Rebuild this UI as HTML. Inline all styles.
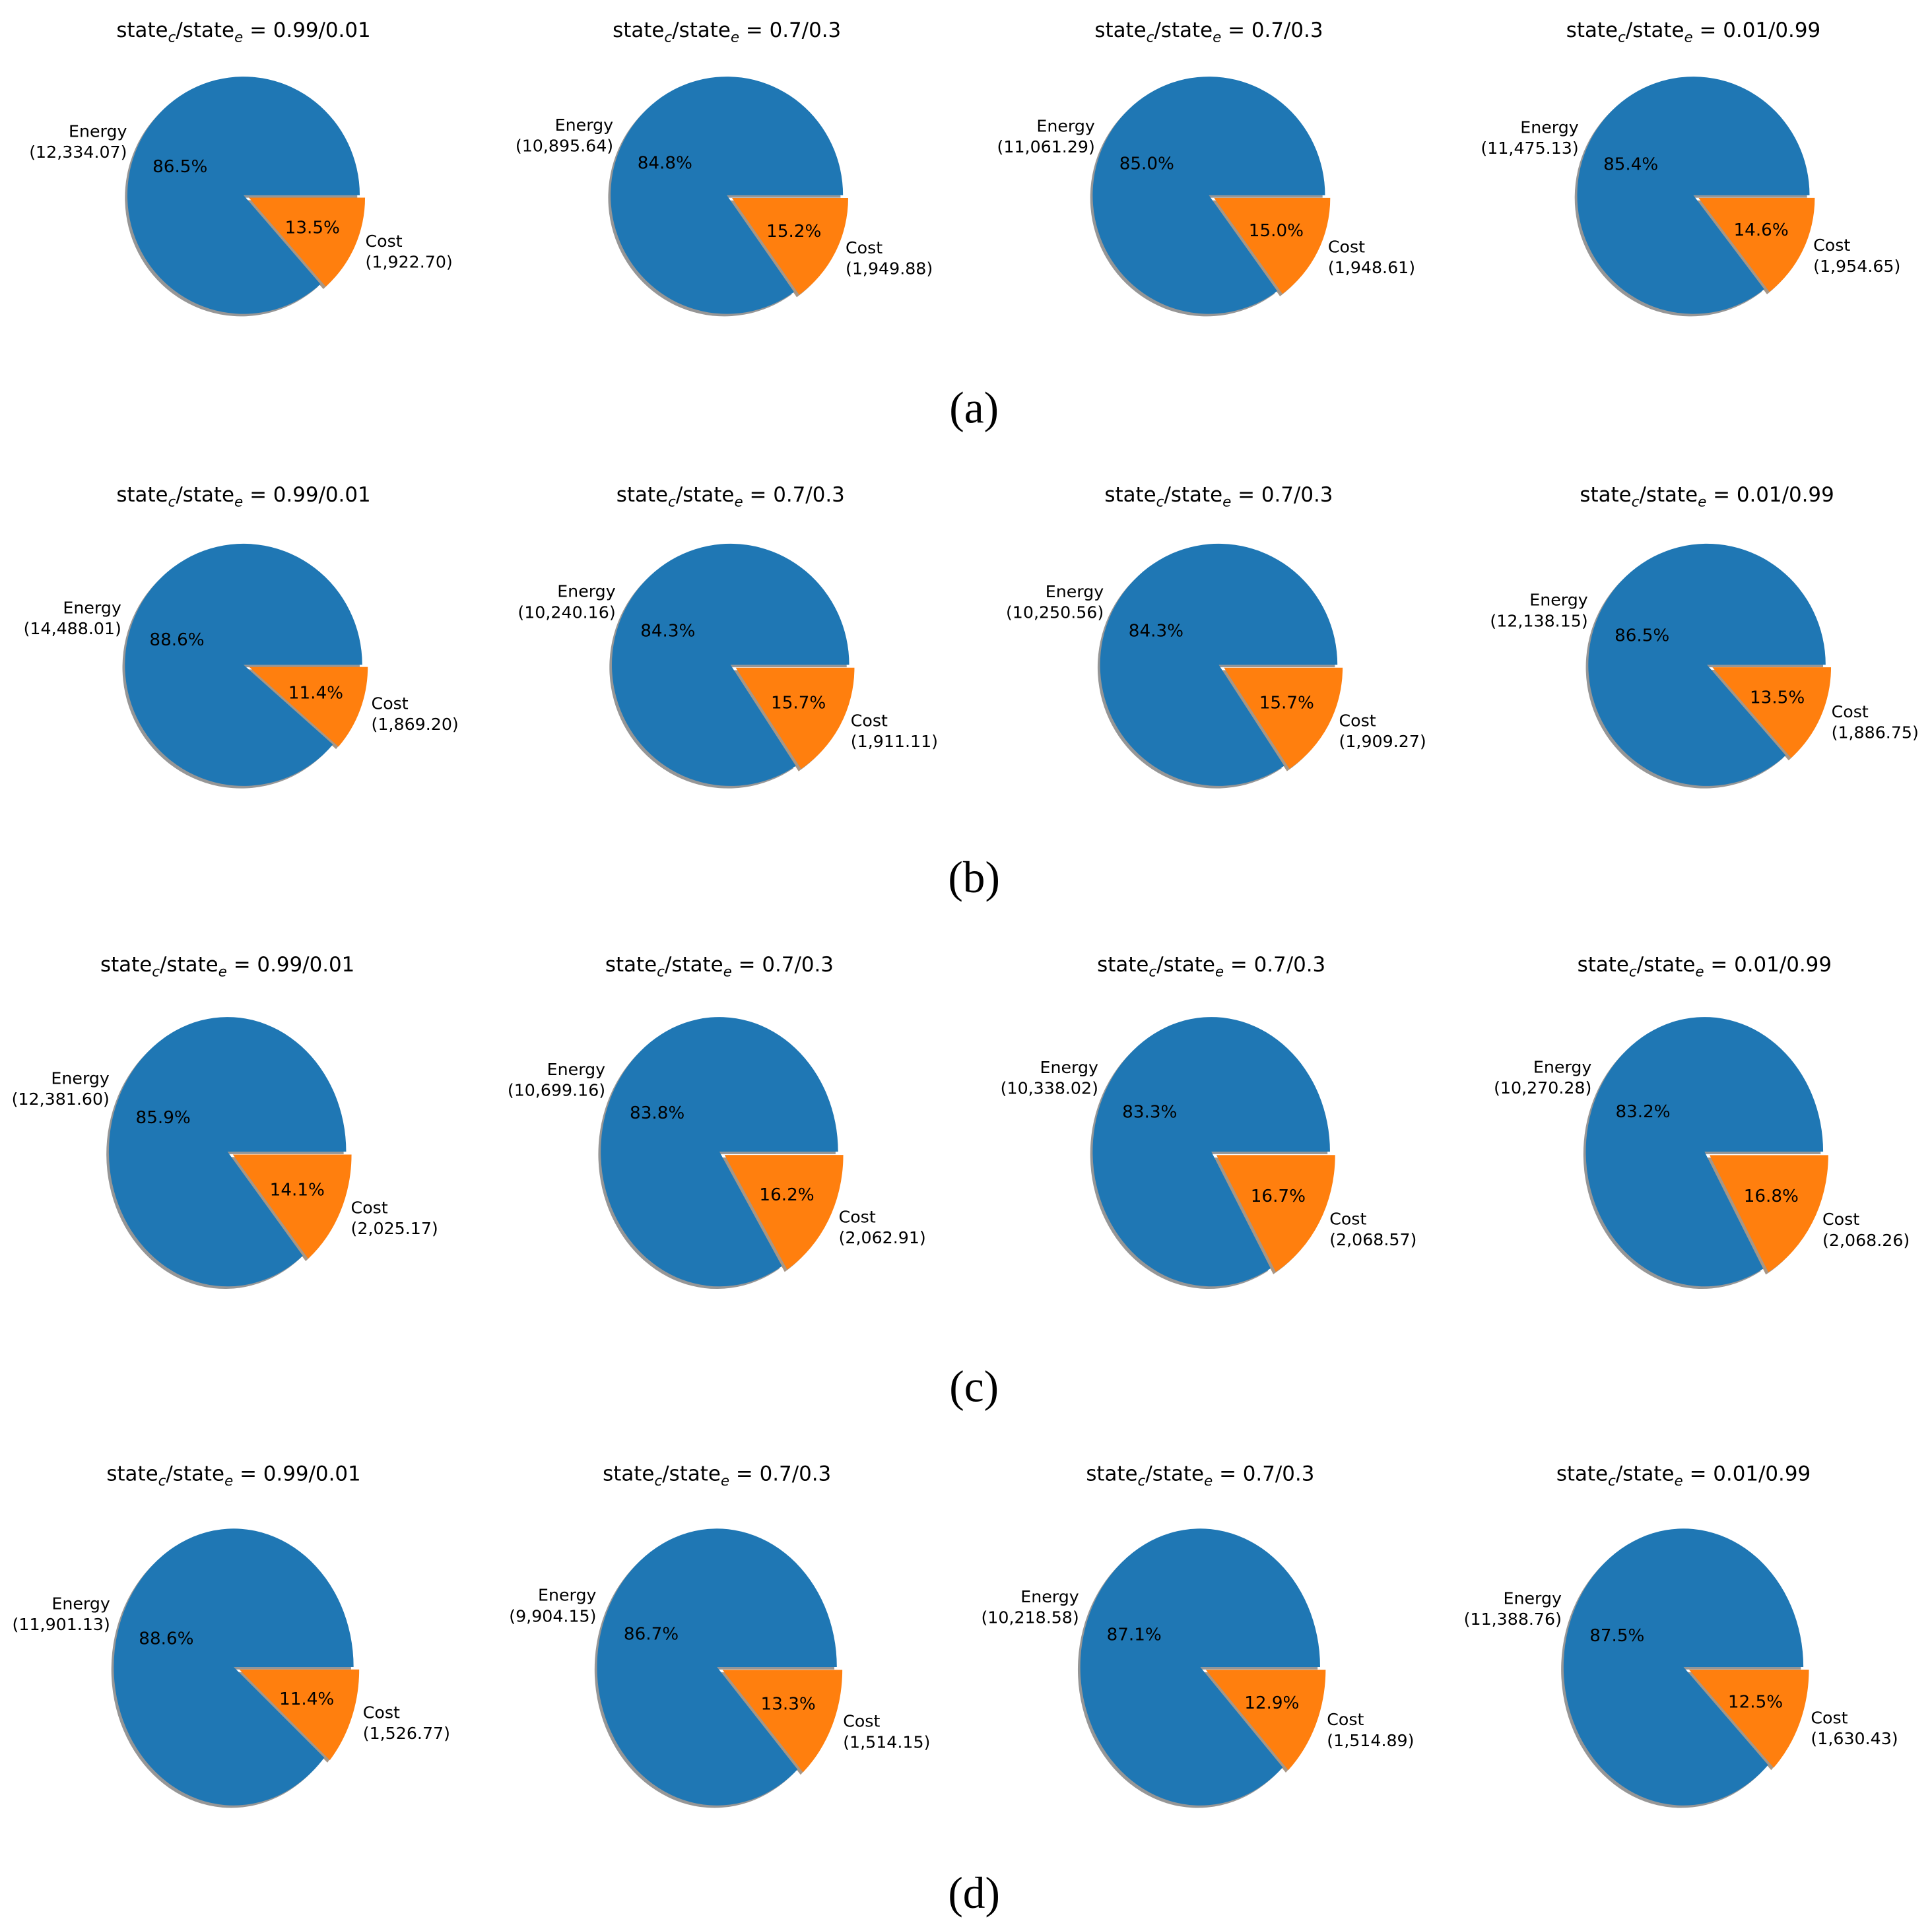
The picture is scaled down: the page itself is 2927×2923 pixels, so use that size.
<!DOCTYPE html>
<html><head><meta charset="utf-8"><style>
html,body{margin:0;padding:0;background:#fff}
svg{display:block}
text{font-family:"DejaVu Sans","Liberation Sans",sans-serif}
</style></head><body>
<svg id="fig" width="2927" height="2923" viewBox="0 0 1563 1561" xmlns="http://www.w3.org/2000/svg"></svg>
<script>
const ratios = ["0.99/0.01","0.7/0.3","0.7/0.3","0.01/0.99"];
const panelLabels = ["(a)","(b)","(c)","(d)"];
const energyA = [12334.07,10895.64,11061.29,11475.13];
const costA   = [1922.70,1949.88,1948.61,1954.65];
const energyB = [14488.01,10240.16,10250.56,12138.15];
const costB   = [1869.20,1911.11,1909.27,1886.75];
const energyC = [12381.60,10699.16,10338.02,10270.28];
const costC   = [2025.17,2062.91,2068.57,2068.26];
const energyD = [11901.13,9904.15,10218.58,11388.76];
const costD   = [1526.77,1514.15,1514.89,1630.43];
const energyRows=[energyA,energyB,energyC,energyD];
const costRows=[costA,costB,costC,costD];

// layout (not data)
const rowGeo=[
 {cy:158,rx:94,ry:96,ty:24,ly:330,cx:[197,588,978,1370]},
 {cy:538,rx:96,ry:98,ty:400,ly:710,cx:[197,591,986,1381]},
 {cy:932,rx:96,ry:109,ty:780,ly:1122,cx:[184,582,980,1379]},
 {cy:1349,rx:97,ry:112,ty:1192,ly:1532,cx:[189,580,971,1362]}
];
const NS="http://www.w3.org/2000/svg";
const svg=document.getElementById('fig');
function mk(tag,attrs,parent){const e=document.createElementNS(NS,tag);for(const k in attrs)e.setAttribute(k,attrs[k]);(parent||svg).appendChild(e);return e;}
function fmt(v){return v.toLocaleString('en-US',{minimumFractionDigits:2,maximumFractionDigits:2});}
function wedgePath(cx,cy,rx,ry,a0,a1){
  const r=Math.PI/180;
  const x0=cx+rx*Math.cos(a0*r), y0=cy-ry*Math.sin(a0*r);
  const x1=cx+rx*Math.cos(a1*r), y1=cy-ry*Math.sin(a1*r);
  const large=(a1-a0)>180?1:0;
  return `M${cx},${cy} L${x0},${y0} A${rx},${ry} 0 ${large} 0 ${x1},${y1} Z`;
}
function multiline(g,x,y,lines,anchor,size,name){
  const t=mk('text',{x:x,y:y,'text-anchor':anchor,'font-size':size,fill:'#000'},g);
  
  
  const lh=size*1.25, start=-(lines.length-1)*lh/2;
  lines.forEach((l,i)=>{const s=mk('tspan',{x:x,dy:i===0?start+size*0.35:lh},t);s.textContent=l;});
  return t;
}
for(let r=0;r<4;r++){
  const geo=rowGeo[r];
  for(let c=0;c<4;c++){
    const E=energyRows[r][c], C=costRows[r][c], tot=E+C;
    const cx=geo.cx[c], cy=geo.cy, rx=geo.rx, ry=geo.ry;
    const g=mk('g',{});
    
    
    const t=mk('text',{x:cx,y:geo.ty+6,'text-anchor':'middle','font-size':16.5,fill:'#000'},g);
    
    
    t.innerHTML='state<tspan font-style="italic" font-size="11.5" dy="4">c</tspan><tspan dy="-4">/state</tspan><tspan font-style="italic" font-size="11.5" dy="4">e</tspan><tspan dy="-4"> = '+ratios[c]+'</tspan>';
    const eAng=360*E/tot;
    const eMid=eAng/2, cMid=(eAng+360)/2;
    const rad=Math.PI/180;
    const exX=0.05*rx*Math.cos(cMid*rad), exY=-0.05*ry*Math.sin(cMid*rad);
    const sh1=mk('path',{d:wedgePath(cx-2,cy+2,rx,ry,0,eAng),fill:'#404040','fill-opacity':0.55},g);
    
    
    const sh2=mk('path',{d:wedgePath(cx-2+exX,cy+2+exY,rx,ry,eAng,360),fill:'#604020','fill-opacity':0.55},g);
    
    
    const w1=mk('path',{d:wedgePath(cx,cy,rx,ry,0,eAng),fill:'#1f77b4'},g);
    
    
    const w2=mk('path',{d:wedgePath(cx+exX,cy+exY,rx,ry,eAng,360),fill:'#ff7f0e'},g);
    
    
    const p1=mk('text',{x:cx+0.6*rx*Math.cos(eMid*rad),y:cy-0.6*ry*Math.sin(eMid*rad)+5,'text-anchor':'middle','font-size':14,fill:'#000'},g);
    p1.textContent=(100*E/tot).toFixed(1)+'%';
    
    
    const p2=mk('text',{x:cx+exX+0.6*rx*Math.cos(cMid*rad),y:cy+exY-0.6*ry*Math.sin(cMid*rad)+5,'text-anchor':'middle','font-size':14,fill:'#000'},g);
    p2.textContent=(100*C/tot).toFixed(1)+'%';
    
    
    multiline(g,cx+1.1*rx*Math.cos(eMid*rad),cy-1.1*ry*Math.sin(eMid*rad),['Energy','('+fmt(E)+')'],'end',13.5,'energy-label');
    multiline(g,cx+exX+1.1*rx*Math.cos(cMid*rad),cy+exY-1.1*ry*Math.sin(cMid*rad),['Cost','('+fmt(C)+')'],'start',13.5,'cost-label');
  }
  const pl=mk('text',{x:788,y:geo.ly+12,'text-anchor':'middle','font-size':36,fill:'#000',style:'font-family:"Liberation Serif",serif'});
  pl.textContent=panelLabels[r];
  
  
}
</script>
</body></html>
